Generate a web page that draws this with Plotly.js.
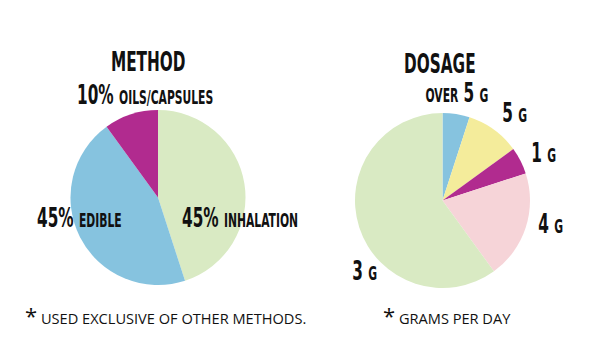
<!DOCTYPE html>
<html><head><meta charset="utf-8">
<script src="https://cdn.plot.ly/plotly-3.0.1.min.js"></script>
<style>html,body{margin:0;padding:0;background:#fff}#chart{width:600px;height:358px}</style>
</head><body><div id="chart"></div>
<script>
// Method pie
const methodLabels = ["Inhalation", "Edible", "Oils/Capsules"];
const methodValues = [45, 45, 10];
const methodColors = ["#d9eac3", "#86c3df", "#b12b8f"];
// Dosage pie
const dosageLabels = ["Over 5 g", "5 g", "1 g", "4 g", "3 g"];
const dosageValues = [5, 10, 5, 20, 60];
const dosageColors = ["#86c3df", "#f4ec9b", "#b12b8f", "#f6d4d8", "#d9eac3"];

const titles = ["METHOD", "DOSAGE"];
const notes = ["USED EXCLUSIVE OF OTHER METHODS.", "GRAMS PER DAY"];

const COND = "DejaVu Sans Condensed, DejaVu Sans, sans-serif";
const SANS = "Open Sans, Noto Sans, sans-serif";
const SMALL = 19;

function lbl(big, small, pre) {
  let s = "";
  if (pre) s += '<span style="font-size:' + SMALL + 'px">' + pre + '</span> ';
  s += big;
  if (small) s += ' <span style="font-size:' + SMALL + 'px">' + small + '</span>';
  return '<b>' + s + '</b>';
}

const traces = [
  {type: "pie", labels: methodLabels, values: methodValues, marker: {colors: methodColors},
   sort: false, direction: "clockwise", rotation: 0, textinfo: "none", hoverinfo: "label+percent",
   domain: {x: [70/600, 246/600], y: [1 - 285/358, 1 - 110/358]}},
  {type: "pie", labels: dosageLabels, values: dosageValues, marker: {colors: dosageColors},
   sort: false, direction: "clockwise", rotation: 0, textinfo: "none", hoverinfo: "label+percent",
   domain: {x: [355/600, 530/600], y: [1 - 288/358, 1 - 113/358]}}
];

const scales = [];
function ann(text, x, y, xanchor, size, family, sx) {
  scales.push(sx || 1);
  return {text: text, x: x/600, y: 1 - y/358, xref: "paper", yref: "paper",
    xanchor: xanchor || "center", yanchor: "middle", showarrow: false,
    font: {family: family || COND, size: size || 27, color: "#111"}};
}

const S = 0.63;
const annotations = [
  ann('<b>' + titles[0] + '</b>', 148, 62, "center", 27, COND, S),
  ann('<b>' + titles[1] + '</b>', 440, 63, "center", 27, COND, S),
  ann(lbl(methodValues[2] + "%", "OILS/CAPSULES"), 75, 94, "left", 27, COND, S),
  ann(lbl(methodValues[1] + "%", "EDIBLE"), 35, 217, "left", 27, COND, S),
  ann(lbl(methodValues[0] + "%", "INHALATION"), 180, 217, "left", 27, COND, S),
  ann(lbl("5", "G", "OVER"), 457, 93, "center", 27, COND, S),
  ann(lbl("5", "G"), 514, 112, "center", 27, COND, S),
  ann(lbl("1", "G"), 543, 152, "center", 27, COND, S),
  ann(lbl("4", "G"), 550, 223, "center", 27, COND, S),
  ann(lbl("3", "G"), 365, 270, "center", 27, COND, S),
  ann('<span style="font-size:22px">*</span> ' + notes[0], 23, 315, "left", 14.6, SANS),
  ann('<span style="font-size:22px">*</span> ' + notes[1], 381, 315, "left", 14.6, SANS)
];

Plotly.newPlot("chart", traces, {
  width: 600, height: 358, margin: {l: 0, r: 0, t: 0, b: 0},
  showlegend: false, paper_bgcolor: "#fff", plot_bgcolor: "#fff",
  annotations: annotations
}, {displayModeBar: false, staticPlot: true}).then(function (gd) {
  gd.querySelectorAll("g.annotation").forEach(function (g) {
    const i = +g.getAttribute("data-index");
    const sx = scales[i];
    if (!sx || sx === 1) return;
    const t = g.querySelector("text.annotation-text");
    if (!t) return;
    const bb = t.getBBox();
    const xa = annotations[i].xanchor;
    const ox = xa === "left" ? bb.x : (xa === "right" ? bb.x + bb.width : bb.x + bb.width / 2);
    t.setAttribute("transform", "translate(" + ox + ",0) scale(" + sx + ",1) translate(" + (-ox) + ",0)");
  });
});
</script></body></html>
